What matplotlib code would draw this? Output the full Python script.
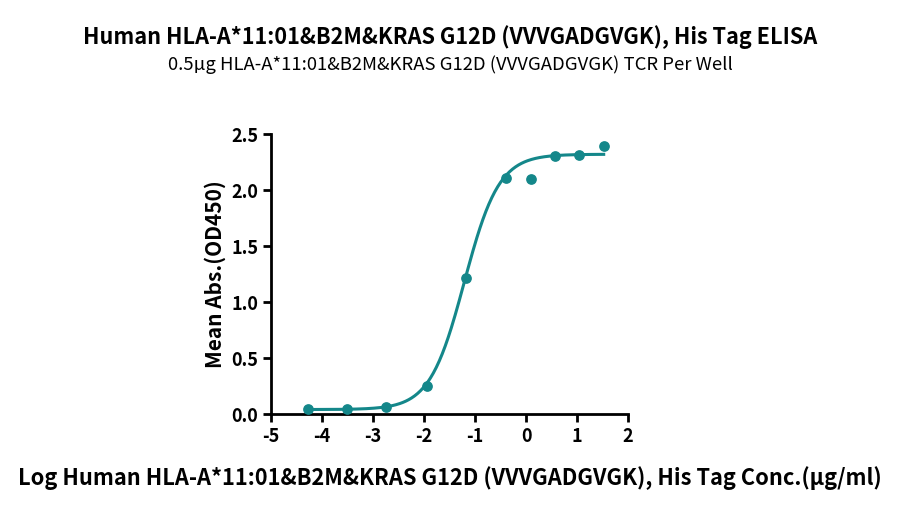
import numpy as np
import matplotlib
matplotlib.use("Agg")
import matplotlib.pyplot as plt

plt.rcParams['font.family'] = ['Noto Sans CJK SC', 'DejaVu Sans']

TEAL = "#14878a"

# measured points (log conc, mean OD450)
log_conc = [-4.28, -3.51, -2.74, -1.95, -1.17, -0.40, 0.095, 0.566, 1.037, 1.52]
od450 = [0.048, 0.048, 0.060, 0.253, 1.214, 2.107, 2.095, 2.304, 2.315, 2.393]

# 4PL fit parameters
fit_bottom = 0.04
fit_top = 2.32
fit_logec50 = -1.21
fit_hill = 1.28

x_ticks = [-5, -4, -3, -2, -1, 0, 1, 2]
y_ticks = [0.0, 0.5, 1.0, 1.5, 2.0, 2.5]


def four_pl(x):
    return fit_bottom + (fit_top - fit_bottom) / (1 + 10 ** ((fit_logec50 - x) * fit_hill))


fig = plt.figure(figsize=(9, 5.08), dpi=100)
ax = fig.add_axes([0.301, 0.185, 0.397, 0.551])

xs = np.linspace(min(log_conc), max(log_conc), 300)
ax.plot(xs, four_pl(xs), color=TEAL, lw=2.2)
ax.scatter(log_conc, od450, s=45, color=TEAL, zorder=3, clip_on=False)

ax.set_xlim(-5, 2)
ax.set_ylim(0, 2.5)
ax.set_xticks(x_ticks)
ax.set_yticks(y_ticks)
ax.set_xticklabels([str(t) for t in x_ticks])
ax.set_yticklabels(["%.1f" % t for t in y_ticks])

for s in ["top", "right"]:
    ax.spines[s].set_visible(False)
for s in ["left", "bottom"]:
    ax.spines[s].set_linewidth(2)
ax.tick_params(width=2, length=6, labelsize=13, pad=3)
for lbl in ax.get_xticklabels() + ax.get_yticklabels():
    lbl.set_fontweight("bold")

ax.set_ylabel("Mean Abs.(OD450)", fontsize=15, fontweight="bold", labelpad=4)
fig.text(0.5, 0.058, "Log Human HLA-A*11:01&B2M&KRAS G12D (VVVGADGVGK), His Tag Conc.(µg/ml)",
         ha="center", va="center", fontsize=15.7, fontweight="bold")

fig.text(0.5, 0.927, "Human HLA-A*11:01&B2M&KRAS G12D (VVVGADGVGK), His Tag ELISA",
         ha="center", va="center", fontsize=15.6, fontweight="bold")
fig.text(0.5, 0.872, "0.5µg HLA-A*11:01&B2M&KRAS G12D (VVVGADGVGK) TCR Per Well",
         ha="center", va="center", fontsize=13.3)

fig.savefig("out.png", dpi=100)
